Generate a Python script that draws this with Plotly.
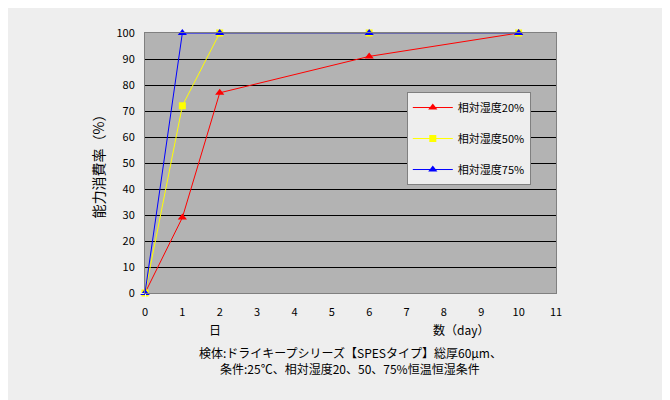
import plotly.graph_objects as go

days = [0, 1, 2, 6, 10]
rh20 = [0, 29, 77, 91, 100]
rh50 = [0, 72, 100, 100, 100]
rh75 = [0, 100, 100, 100, 100]
names = ["相対湿度20%", "相対湿度50%", "相対湿度75%"]
x_ticks = list(range(0, 12))
y_ticks = list(range(0, 101, 10))

font = "Noto Sans CJK JP"
bg = "#eeeeee"

fig = go.Figure()
fig.add_trace(go.Scatter(x=days, y=rh20, name=names[0], mode="lines+markers",
                         legendgroup="a", cliponaxis=False,
                         line=dict(color="#ff0000", width=1),
                         marker=dict(symbol="triangle-up", size=8, color="#ff0000")))
fig.add_trace(go.Scatter(x=days, y=rh50, name=names[1], mode="lines+markers",
                         legendgroup="b", cliponaxis=False,
                         line=dict(color="#ffff00", width=1),
                         marker=dict(symbol="square", size=7, color="#ffff00")))
fig.add_trace(go.Scatter(x=days, y=rh75, name=names[2], mode="lines+markers",
                         legendgroup="c", cliponaxis=False,
                         line=dict(color="#0000ff", width=1),
                         marker=dict(symbol="triangle-up", size=8, color="#0000ff")))

fig.update_layout(
    width=670, height=400,
    paper_bgcolor=bg,
    plot_bgcolor="#b3b3b3",
    margin=dict(l=137, r=122, t=25, b=115, pad=0),
    font=dict(family=font, size=11, color="#000000"),
    xaxis=dict(range=[0, 11], tickvals=x_ticks, showgrid=False, zeroline=False,
               showline=True, linecolor="#808080", mirror=True,
               ticks="outside", ticklen=9, tickcolor=bg,
               tickfont=dict(size=11)),
    yaxis=dict(range=[0, 100], tickvals=y_ticks, showgrid=True, gridcolor="#000000",
               gridwidth=1, zeroline=False, showline=True, linecolor="#808080",
               mirror=True, ticks="outside", ticklen=7, tickcolor=bg,
               tickfont=dict(size=11),
               title=dict(text="能力消費率（%）", font=dict(size=14), standoff=8)),
    legend=dict(x=0.637, y=0.773, xanchor="left", yanchor="top",
                bgcolor=bg, bordercolor="#808080", borderwidth=1,
                font=dict(size=11), tracegroupgap=12, traceorder="grouped",
                itemwidth=40),
    showlegend=True,
)

fig.add_annotation(text="日", x=0.17, y=-0.142, xref="paper", yref="paper",
                   showarrow=False, font=dict(size=12), xanchor="center", yanchor="middle")
fig.add_annotation(text="数（day）", x=0.769, y=-0.142, xref="paper", yref="paper",
                   showarrow=False, font=dict(size=12), xanchor="center", yanchor="middle")
fig.add_annotation(text="検体:ドライキープシリーズ【SPESタイプ】総厚60μm、",
                   x=0.499, y=-0.227, xref="paper", yref="paper", showarrow=False,
                   font=dict(size=12), xanchor="center", yanchor="middle")
fig.add_annotation(text="条件:25℃、相対湿度20、50、75%恒温恒湿条件",
                   x=0.499, y=-0.292, xref="paper", yref="paper", showarrow=False,
                   font=dict(size=12), xanchor="center", yanchor="middle")

fig.write_html("out.html")
